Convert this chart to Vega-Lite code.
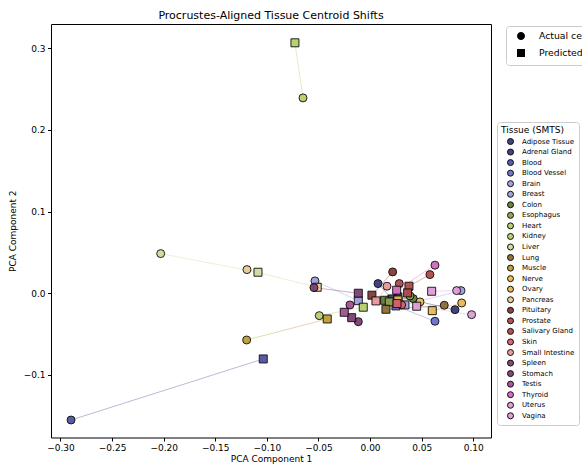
{
  "$schema": "https://vega.github.io/schema/vega-lite/v6.json",
  "autosize": {"type": "none"},
  "padding": {"left": 51, "top": 24, "right": 91, "bottom": 26},
  "width": 440,
  "height": 413.5,
  "title": {"text": "Procrustes-Aligned Tissue Centroid Shifts", "font": "DejaVu Sans", "fontSize": 11, "fontWeight": "normal", "color": "black", "anchor": "middle", "frame": "group", "baseline": "alphabetic", "offset": -6},
  "data": {"values": [
    {"tissue": "Adipose Tissue", "type": "Actual centroid", "x": 0.0823, "y": -0.0201},
    {"tissue": "Adipose Tissue", "type": "Predicted centroid", "x": 0.0270, "y": -0.0045},
    {"tissue": "Adrenal Gland", "type": "Actual centroid", "x": 0.0077, "y": 0.0118},
    {"tissue": "Adrenal Gland", "type": "Predicted centroid", "x": 0.0212, "y": -0.0070},
    {"tissue": "Blood", "type": "Actual centroid", "x": -0.2898, "y": -0.1551},
    {"tissue": "Blood", "type": "Predicted centroid", "x": -0.1035, "y": -0.0804},
    {"tissue": "Blood Vessel", "type": "Actual centroid", "x": 0.0629, "y": -0.0343},
    {"tissue": "Blood Vessel", "type": "Predicted centroid", "x": 0.0251, "y": -0.0155},
    {"tissue": "Brain", "type": "Actual centroid", "x": -0.0534, "y": 0.0151},
    {"tissue": "Brain", "type": "Predicted centroid", "x": -0.0114, "y": -0.0091},
    {"tissue": "Breast", "type": "Actual centroid", "x": 0.0881, "y": 0.0032},
    {"tissue": "Breast", "type": "Predicted centroid", "x": 0.0338, "y": -0.0143},
    {"tissue": "Colon", "type": "Actual centroid", "x": 0.0419, "y": -0.0066},
    {"tissue": "Colon", "type": "Predicted centroid", "x": 0.0141, "y": -0.0086},
    {"tissue": "Esophagus", "type": "Actual centroid", "x": 0.0387, "y": -0.0033},
    {"tissue": "Esophagus", "type": "Predicted centroid", "x": 0.0186, "y": -0.0106},
    {"tissue": "Heart", "type": "Actual centroid", "x": -0.0650, "y": 0.2390},
    {"tissue": "Heart", "type": "Predicted centroid", "x": -0.0728, "y": 0.3064},
    {"tissue": "Kidney", "type": "Actual centroid", "x": -0.0492, "y": -0.0274},
    {"tissue": "Kidney", "type": "Predicted centroid", "x": -0.0066, "y": -0.0171},
    {"tissue": "Liver", "type": "Actual centroid", "x": -0.2029, "y": 0.0485},
    {"tissue": "Liver", "type": "Predicted centroid", "x": -0.1086, "y": 0.0257},
    {"tissue": "Lung", "type": "Actual centroid", "x": 0.0719, "y": -0.0147},
    {"tissue": "Lung", "type": "Predicted centroid", "x": 0.0154, "y": -0.0196},
    {"tissue": "Muscle", "type": "Actual centroid", "x": -0.1196, "y": -0.0572},
    {"tissue": "Muscle", "type": "Predicted centroid", "x": -0.0415, "y": -0.0315},
    {"tissue": "Nerve", "type": "Actual centroid", "x": 0.0888, "y": -0.0119},
    {"tissue": "Nerve", "type": "Predicted centroid", "x": 0.0603, "y": -0.0213},
    {"tissue": "Ovary", "type": "Actual centroid", "x": 0.0484, "y": -0.0106},
    {"tissue": "Ovary", "type": "Predicted centroid", "x": 0.0270, "y": -0.0082},
    {"tissue": "Pancreas", "type": "Actual centroid", "x": -0.1193, "y": 0.0289},
    {"tissue": "Pancreas", "type": "Predicted centroid", "x": -0.0512, "y": 0.0073},
    {"tissue": "Pituitary", "type": "Actual centroid", "x": 0.0219, "y": 0.0261},
    {"tissue": "Pituitary", "type": "Predicted centroid", "x": 0.0018, "y": -0.0024},
    {"tissue": "Prostate", "type": "Actual centroid", "x": 0.0580, "y": 0.0228},
    {"tissue": "Prostate", "type": "Predicted centroid", "x": 0.0377, "y": 0.0086},
    {"tissue": "Salivary Gland", "type": "Actual centroid", "x": 0.0283, "y": 0.0118},
    {"tissue": "Salivary Gland", "type": "Predicted centroid", "x": 0.0364, "y": 0.0004},
    {"tissue": "Skin", "type": "Actual centroid", "x": 0.0306, "y": -0.0143},
    {"tissue": "Skin", "type": "Predicted centroid", "x": 0.0261, "y": -0.0127},
    {"tissue": "Small Intestine", "type": "Actual centroid", "x": 0.0164, "y": 0.0086},
    {"tissue": "Small Intestine", "type": "Predicted centroid", "x": 0.0057, "y": -0.0094},
    {"tissue": "Spleen", "type": "Actual centroid", "x": -0.0544, "y": 0.0069},
    {"tissue": "Spleen", "type": "Predicted centroid", "x": -0.0114, "y": 0.0000},
    {"tissue": "Stomach", "type": "Actual centroid", "x": -0.0114, "y": -0.0348},
    {"tissue": "Stomach", "type": "Predicted centroid", "x": -0.0178, "y": -0.0299},
    {"tissue": "Testis", "type": "Actual centroid", "x": -0.0195, "y": -0.0143},
    {"tissue": "Testis", "type": "Predicted centroid", "x": -0.0250, "y": -0.0233},
    {"tissue": "Thyroid", "type": "Actual centroid", "x": 0.0629, "y": 0.0343},
    {"tissue": "Thyroid", "type": "Predicted centroid", "x": 0.0258, "y": 0.0037},
    {"tissue": "Uterus", "type": "Actual centroid", "x": 0.0839, "y": 0.0032},
    {"tissue": "Uterus", "type": "Predicted centroid", "x": 0.0597, "y": 0.0024},
    {"tissue": "Vagina", "type": "Actual centroid", "x": 0.0984, "y": -0.0262},
    {"tissue": "Vagina", "type": "Predicted centroid", "x": 0.0452, "y": -0.0159}
  ]},
  "encoding": {
    "x": {"field": "x", "type": "quantitative", "scale": {"domain": [-0.3092, 0.1172], "nice": false, "zero": false},
      "axis": {"title": "PCA Component 1", "values": [-0.3, -0.25, -0.2, -0.15, -0.1, -0.05, 0, 0.05, 0.1], "format": ".2f", "titlePadding": 2}},
    "y": {"field": "y", "type": "quantitative", "scale": {"domain": [-0.1765, 0.3294], "nice": false, "zero": false},
      "axis": {"title": "PCA Component 2", "values": [-0.1, 0, 0.1, 0.2, 0.3], "format": ".1f", "titlePadding": 6}}
  },
  "layer": [
    {
      "mark": {"type": "line", "strokeWidth": 0.9, "opacity": 0.45},
      "encoding": {
        "detail": {"field": "tissue"},
        "order": {"field": "type"},
        "stroke": {"field": "tissue", "type": "nominal", "legend": null,
          "scale": {"domain": ["Vagina", "Uterus", "Thyroid", "Testis", "Stomach", "Spleen", "Small Intestine", "Skin", "Salivary Gland", "Prostate", "Pituitary", "Pancreas", "Ovary", "Nerve", "Muscle", "Lung", "Liver", "Kidney", "Heart", "Esophagus", "Colon", "Breast", "Brain", "Blood Vessel", "Blood", "Adrenal Gland", "Adipose Tissue"],
            "range": ["#de9ed6", "#de9ed6", "#ce6dbd", "#a55194", "#7b4173", "#7b4173", "#e7969c", "#d6616b", "#ad494a", "#ad494a", "#843c39", "#e7cb94", "#e7ba52", "#e7ba52", "#bd9e39", "#8c6d31", "#cedb9c", "#b5cf6b", "#b5cf6b", "#8ca252", "#637939", "#9c9ede", "#9c9ede", "#6b6ecf", "#5254a3", "#393b79", "#393b79"]}}
      }
    },
    {
      "mark": {"type": "point", "filled": true, "opacity": 0, "color": "black", "stroke": "black", "strokeWidth": 1.3, "size": 64},
      "encoding": {
        "stroke": {"value": "black"},
        "strokeWidth": {"value": 1.3},
        "shape": {"field": "type", "type": "nominal", "scale": {"domain": ["Actual centroid", "Predicted centroid"],
            "range": ["M-2.5,0H2.5M1,0A1,1,0,1,1,-1,0A1,1,0,1,1,1,0Z", "M-2.5,0H2.5M-1,-1H1V1H-1Z"]},
          "legend": {"title": null, "orient": "none", "legendX": 455, "legendY": 2, "symbolOpacity": 1,
            "symbolSize": 64, "symbolFillColor": "black", "symbolStrokeColor": "black", "symbolStrokeWidth": 1.3,
            "labelFontSize": 9.3, "rowPadding": 3, "padding": 5, "symbolOffset": 5, "labelOffset": 13,
            "strokeColor": "#cccccc", "fillColor": "white", "cornerRadius": 3,
            "encode": {"symbols": {"update": {"stroke": {"value": "black"}, "strokeWidth": {"value": 1.3}, "fill": {"value": "black"}, "opacity": {"value": 1}}}}}}
      }
    },
    {
      "mark": {"type": "point", "filled": true, "opacity": 0.95, "stroke": "black", "strokeWidth": 0.9, "size": 64},
      "encoding": {
        "shape": {"field": "type", "type": "nominal", "scale": {"domain": ["Actual centroid", "Predicted centroid"], "range": ["circle", "square"]}, "legend": null},
        "color": {"field": "tissue", "type": "nominal",
          "scale": {"domain": ["Adipose Tissue", "Adrenal Gland", "Blood", "Blood Vessel", "Brain", "Breast", "Colon", "Esophagus", "Heart", "Kidney", "Liver", "Lung", "Muscle", "Nerve", "Ovary", "Pancreas", "Pituitary", "Prostate", "Salivary Gland", "Skin", "Small Intestine", "Spleen", "Stomach", "Testis", "Thyroid", "Uterus", "Vagina"],
            "range": ["#393b79", "#393b79", "#5254a3", "#6b6ecf", "#9c9ede", "#9c9ede", "#637939", "#8ca252", "#b5cf6b", "#b5cf6b", "#cedb9c", "#8c6d31", "#bd9e39", "#e7ba52", "#e7ba52", "#e7cb94", "#843c39", "#ad494a", "#ad494a", "#d6616b", "#e7969c", "#7b4173", "#7b4173", "#a55194", "#ce6dbd", "#de9ed6", "#de9ed6"]},
          "legend": {"title": "Tissue (SMTS)", "orient": "none", "legendX": 446, "legendY": 98,
            "symbolType": "circle", "symbolSize": 36, "symbolStrokeColor": "black", "symbolStrokeWidth": 1, "symbolOpacity": 0.95,
            "labelFontSize": 7, "titleFontSize": 9, "titleFontWeight": "normal", "rowPadding": -0.45, "padding": 4, "titlePadding": 3,
            "strokeColor": "#cccccc", "fillColor": "white", "cornerRadius": 3, "labelOffset": 8, "symbolOffset": 6}}
      }
    }
  ],
  "resolve": {"scale": {"shape": "independent"}, "legend": {"shape": "independent"}},
  "config": {
    "font": "DejaVu Sans",
    "view": {"stroke": "black", "strokeWidth": 1},
    "axis": {"grid": false, "domain": false, "tickColor": "black", "tickSize": 3.5, "labelPadding": 2.5, "labelFontSize": 9, "labelColor": "black", "titleFontSize": 9, "titleFontWeight": "normal", "titleColor": "black", "labelFont": "DejaVu Sans", "titleFont": "DejaVu Sans"},
    "legend": {"labelFont": "DejaVu Sans", "titleFont": "DejaVu Sans", "labelColor": "black", "titleColor": "black"}
  }
}
